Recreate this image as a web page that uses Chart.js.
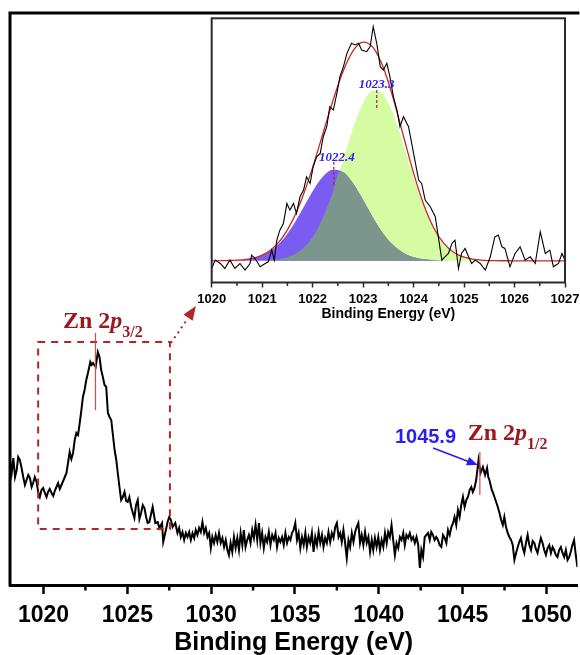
<!DOCTYPE html>
<html>
<head>
<meta charset="utf-8">
<script src="https://cdn.jsdelivr.net/npm/chart.js@4.4.0/dist/chart.umd.min.js"></script>
<style>
  html, body { margin: 0; padding: 0; background: #fff; }
  body { width: 580px; height: 655px; overflow: hidden; position: relative; }
  #main { position: absolute; left: 0; top: 0; }
  #inset { position: absolute; left: 170px; top: 0; }
</style>
</head>
<body>
<canvas id="main" width="580" height="655"></canvas>
<canvas id="inset" width="430" height="330"></canvas>
<script>
// Zn 2p survey (arbitrary intensity)
var energy = [
  1018.00, 1018.10, 1018.20, 1018.30, 1018.40, 1018.49, 1018.59, 1018.69, 1018.79, 1018.89,
  1018.99, 1019.09, 1019.19, 1019.29, 1019.38, 1019.48, 1019.59, 1019.68, 1019.78, 1019.88,
  1019.98, 1020.08, 1020.18, 1020.27, 1020.37, 1020.48, 1020.58, 1020.67, 1020.77, 1020.87,
  1020.97, 1021.07, 1021.17, 1021.27, 1021.37, 1021.46, 1021.56, 1021.66, 1021.76, 1021.86,
  1021.96, 1022.06, 1022.16, 1022.26, 1022.35, 1022.45, 1022.55, 1022.65, 1022.79, 1022.87,
  1022.95, 1023.11, 1023.24, 1023.34, 1023.44, 1023.54, 1023.64, 1023.74, 1023.84, 1023.94,
  1024.04, 1024.14, 1024.24, 1024.34, 1024.43, 1024.53, 1024.63, 1024.73, 1024.83, 1024.93,
  1025.02, 1025.12, 1025.23, 1025.33, 1025.42, 1025.52, 1025.62, 1025.72, 1025.82, 1025.92,
  1026.02, 1026.12, 1026.21,
  1026.31, 1026.51, 1026.67, 1026.81, 1026.91, 1027.07, 1027.14, 1027.30, 1027.40, 1027.50,
  1027.60, 1027.70, 1027.86, 1027.99, 1028.09, 1028.19, 1028.29, 1028.39, 1028.49, 1028.59,
  1028.69, 1028.79, 1028.89, 1028.99, 1029.08, 1029.18, 1029.28, 1029.38, 1029.48, 1029.58,
  1029.68, 1029.78, 1029.88, 1029.98, 1030.07, 1030.17, 1030.27, 1030.37, 1030.47, 1030.57,
  1030.67, 1030.77, 1030.87, 1030.97, 1031.06, 1031.16, 1031.26, 1031.36, 1031.46, 1031.56,
  1031.66, 1031.76, 1031.86, 1031.95, 1032.05, 1032.15, 1032.25, 1032.35, 1032.45, 1032.55,
  1032.65, 1032.75, 1032.85, 1032.94, 1033.04, 1033.14, 1033.24, 1033.34, 1033.44, 1033.54,
  1033.64, 1033.74, 1033.84, 1033.93, 1034.03, 1034.13, 1034.23, 1034.33, 1034.43, 1034.53,
  1034.63, 1034.73, 1034.82, 1034.92, 1035.02, 1035.12, 1035.22, 1035.32, 1035.42, 1035.52,
  1035.62, 1035.71, 1035.81, 1035.91, 1036.01, 1036.11, 1036.21, 1036.31, 1036.41, 1036.51,
  1036.61, 1036.70, 1036.80, 1036.90, 1037.00, 1037.10, 1037.20, 1037.30, 1037.40, 1037.50,
  1037.60, 1037.70, 1037.79, 1037.89, 1037.99, 1038.09, 1038.19, 1038.29, 1038.39, 1038.49,
  1038.59, 1038.68, 1038.78, 1038.88, 1038.98, 1039.08, 1039.18, 1039.28, 1039.38, 1039.48,
  1039.58, 1039.67, 1039.77, 1039.87, 1039.97, 1040.07, 1040.17, 1040.27, 1040.37, 1040.47,
  1040.56, 1040.66, 1040.76, 1040.86, 1040.96, 1041.06, 1041.16, 1041.26, 1041.36, 1041.46,
  1041.55, 1041.65, 1041.75, 1041.85, 1041.95, 1042.05, 1042.15, 1042.25, 1042.35, 1042.45,
  1042.54, 1042.64, 1042.74, 1042.84, 1042.94, 1043.04, 1043.13, 1043.23, 1043.33, 1043.43,
  1043.53,
  1043.63, 1043.73, 1043.83, 1043.93, 1044.03, 1044.13, 1044.23, 1044.33, 1044.43, 1044.52,
  1044.62, 1044.72, 1044.82, 1044.92, 1045.02, 1045.12, 1045.22, 1045.32, 1045.42, 1045.52,
  1045.61, 1045.71, 1045.81, 1045.95, 1046.07, 1046.21, 1046.34, 1046.46, 1046.53, 1046.60,
  1046.67, 1046.74, 1046.82, 1046.90, 1047.00, 1047.10, 1047.20, 1047.30, 1047.40, 1047.49,
  1047.59, 1047.69, 1047.79, 1047.89, 1047.99, 1048.09, 1048.19, 1048.29, 1048.38, 1048.48,
  1048.58, 1048.68, 1048.78, 1048.88, 1048.98, 1049.08, 1049.18, 1049.28, 1049.37, 1049.47,
  1049.57, 1049.67, 1049.77, 1049.87, 1049.97, 1050.07, 1050.17, 1050.27, 1050.37, 1050.46,
  1050.56, 1050.66, 1050.76, 1050.86, 1050.96, 1051.06, 1051.16, 1051.26, 1051.36, 1051.45,
  1051.55, 1051.65, 1051.75, 1051.85];
var counts = [
  125, 112, 127, 108, 115, 128, 125, 117, 108, 100,
  105, 110, 107, 98, 102, 108, 103, 93, 88, 95,
  97, 92, 88, 93, 96, 92, 89, 94, 98, 102,
  96, 100, 104, 108, 112, 122, 133, 126, 132, 145,
  152, 150, 162, 175, 188, 195, 205, 212, 223, 220,
  222, 218, 233, 228, 215, 208, 200, 198, 172, 168,
  165, 150, 135, 125, 112, 98, 85, 88, 93, 84,
  83, 88, 78, 72, 67, 80, 85, 66, 72, 80,
  77, 68, 62,
  63, 78, 62, 63, 57, 62, 43, 55, 63, 68,
  65, 58, 62, 52, 57, 48, 53, 45, 52, 48,
  53, 45, 52, 47, 55, 50, 57, 53, 63, 52,
  57, 48, 52, 37, 48, 42, 50, 43, 52, 42,
  47, 38, 45, 35, 30, 42, 33, 48, 37, 47,
  35, 52, 40, 55, 38, 45, 50, 42, 55, 47,
  60, 45, 62, 42, 52, 37, 48, 43, 53, 40,
  50, 45, 52, 38, 47, 43, 48, 40, 52, 42,
  48, 45, 52, 55, 62, 45, 52, 37, 48, 40,
  52, 38, 48, 42, 52, 33, 48, 40, 53, 42,
  50, 38, 47, 42, 53, 43, 52, 47, 58, 62,
  48, 52, 43, 55, 42, 27, 45, 38, 52, 43,
  53, 58, 62, 42, 50, 40, 53, 42, 48, 33,
  45, 35, 47, 38, 48, 35, 45, 38, 52, 42,
  53, 48, 60, 45, 30, 42, 37, 48, 45, 52,
  40, 50, 47, 52, 45, 48, 42, 48, 40, 17,
  35, 28, 48, 50, 52, 45, 53, 50, 45, 48,
  45,
  40, 38, 50, 47, 42, 55, 50, 58, 62, 68,
  60, 75, 68, 80, 88, 78, 85, 88, 95, 98,
  93, 97, 105, 125, 112, 118, 110, 117, 108, 105,
  100, 95, 92, 88, 83, 78, 72, 65, 60, 68,
  58, 52, 48, 45, 40, 25, 32, 38, 43, 47,
  38, 32, 42, 50, 40, 35, 44, 42, 36, 32,
  40, 47, 42, 35, 30, 37, 40, 32, 38, 35,
  30, 28, 35, 38, 32, 28, 35, 25, 28, 33,
  40, 45, 30, 18];
var mainTicks = [1020, 1025, 1030, 1035, 1040, 1045, 1050];
var mainMinor = [1022.5, 1027.5, 1032.5, 1037.5, 1042.5, 1047.5];

// inset: high resolution Zn 2p3/2 and its fit
var insetEnergy = [1020.00, 1020.07, 1020.17, 1020.26, 1020.36, 1020.46, 1020.56, 1020.66, 1020.76, 1020.79,
  1020.86, 1020.96, 1021.06, 1021.12, 1021.19, 1021.24, 1021.29, 1021.35, 1021.42, 1021.49,
  1021.55, 1021.62, 1021.68, 1021.75, 1021.82, 1021.88, 1021.95, 1022.01, 1022.08, 1022.15,
  1022.21, 1022.28, 1022.34, 1022.41, 1022.48, 1022.54, 1022.61, 1022.68, 1022.77, 1022.84,
  1022.91, 1022.97, 1023.07, 1023.14, 1023.20, 1023.27, 1023.34, 1023.40, 1023.47, 1023.53,
  1023.60, 1023.67, 1023.73, 1023.80, 1023.90, 1024.00, 1024.10, 1024.16, 1024.23, 1024.33,
  1024.43, 1024.49, 1024.56, 1024.62, 1024.69, 1024.76, 1024.82, 1024.89, 1024.95, 1025.02,
  1025.09, 1025.15, 1025.22, 1025.32, 1025.42, 1025.52, 1025.61, 1025.68, 1025.75, 1025.81,
  1025.91, 1026.01, 1026.11, 1026.21, 1026.31, 1026.41, 1026.51, 1026.61, 1026.70, 1026.77,
  1026.87, 1026.94, 1027.00];
var insetRaw = [-23, 2, -8, -23, 2, -23, -8, -28, -8, 17,
  7, -18, -8, -3, 32, 2, 62, 92, 112, 172,
  152, 172, 142, 192, 212, 252, 232, 282, 312, 322,
  372, 402, 462, 452, 502, 552, 582, 622, 652, 647,
  652, 632, 627, 642, 702, 652, 582, 572, 592, 552,
  492, 452, 402, 432, 402, 322, 242, 232, 182, 162,
  132, 72, 2, 12, 22, 52, 62, -23, 22, 37,
  12, -8, 2, -8, -28, 12, 72, 77, 42, 37,
  -18, 22, 42, 2, 12, -8, 87, 22, 32, -18,
  -8, 22, 2];
var fitEnergy = [1020.0, 1020.2, 1020.4, 1020.6, 1020.8, 1021.0, 1021.2, 1021.4, 1021.6, 1021.8,
  1022.0, 1022.2, 1022.4, 1022.6, 1022.8, 1023.0, 1023.2, 1023.4, 1023.6, 1023.8,
  1024.0, 1024.2, 1024.4, 1024.6, 1024.8, 1025.0, 1025.2, 1025.4, 1025.6, 1025.8,
  1026.0, 1026.2, 1026.4, 1026.6, 1026.8, 1027.0];
var fitEnvelope = [0, 0.3, 1.0, 2.9, 7.4, 17.1, 36.2, 69.2, 120.4, 191.5,
  280.2, 379.6, 479.2, 566.5, 629.1, 655.7, 639.1, 579.2, 485.1, 373.4,
  263.0, 168.7, 98.5, 52.1, 25.0, 10.8, 4.3, 1.5, 0.5, 0.2,
  0, 0, 0, 0, 0, 0];
var fitPeak1 = [0, 0.3, 1.0, 2.8, 7.1, 16.2, 33.6, 62.3, 103.8, 155.3,
  208.7, 251.9, 273.1, 265.8, 232.4, 182.5, 128.7, 81.5, 46.3, 23.7,
  10.9, 4.5, 1.7, 0.5, 0.2, 0, 0, 0, 0, 0,
  0, 0, 0, 0, 0, 0];
var fitPeak2 = [0, 0, 0, 0.1, 0.3, 0.9, 2.6, 6.9, 16.6, 36.2,
  71.5, 127.7, 206.1, 300.7, 396.7, 473.2, 510.4, 497.7, 438.8, 349.7,
  252.1, 164.2, 96.8, 51.6, 24.8, 10.8, 4.3, 1.5, 0.5, 0.2,
  0, 0, 0, 0, 0, 0];
// area shared by both components
var overlapEnergy = [1020.0, 1020.2, 1020.4, 1020.6, 1020.8, 1021.0, 1021.2, 1021.4, 1021.6, 1021.8,
  1022.0, 1022.2, 1022.4, 1022.53, 1022.6, 1022.8, 1023.0, 1023.2, 1023.4, 1023.6,
  1023.8, 1024.0, 1024.2, 1024.4, 1024.6, 1024.8, 1025.0, 1025.2, 1025.4, 1025.6,
  1025.8, 1026.0, 1026.2, 1026.4, 1026.6, 1026.8, 1027.0];
var fitOverlap = [0, 0, 0, 0.1, 0.3, 0.9, 2.6, 6.9, 16.6, 36.2,
  71.5, 127.7, 206.1, 266, 265.8, 232.4, 182.5, 128.7, 81.5, 46.3,
  23.7, 10.9, 4.5, 1.7, 0.5, 0.2, 0, 0, 0, 0,
  0, 0, 0, 0, 0, 0, 0];
var insetTicks = [1020, 1021, 1022, 1023, 1024, 1025, 1026, 1027];
var insetMinor = [1020.5, 1021.5, 1022.5, 1023.5, 1024.5, 1025.5, 1026.5];

var SANS = 'Arial, "Liberation Sans", sans-serif';
var SERIF = '"Liberation Serif", "Times New Roman", serif';
var DARKRED = 'rgb(155,25,30)';

function pairs(xs, ys) {
  return xs.map(function (x, i) { return { x: x, y: ys[i] }; });
}

function drawRich(ctx, x, y, parts) {
  parts.forEach(function (p) {
    ctx.font = p.font;
    ctx.fillText(p.text, x, y + (p.dy || 0));
    x += ctx.measureText(p.text).width;
  });
}

function arrowHead(ctx, x0, y0, x1, y1, len, half) {
  var a = Math.atan2(y1 - y0, x1 - x0);
  var bx = x1 - len * Math.cos(a), by = y1 - len * Math.sin(a);
  ctx.beginPath();
  ctx.moveTo(x1, y1);
  ctx.lineTo(bx + half * Math.sin(a), by - half * Math.cos(a));
  ctx.lineTo(bx - half * Math.sin(a), by + half * Math.cos(a));
  ctx.closePath();
  ctx.fill();
}

var mainDecor = {
  id: 'mainDecor',
  afterDraw: function (chart) {
    var ctx = chart.ctx, a = chart.chartArea;
    var xs = chart.scales.x, ys = chart.scales.y;
    var px = function (v) { return xs.getPixelForValue(v); };
    var py = function (v) { return ys.getPixelForValue(v); };
    ctx.save();
    // frame (left + top), the right side runs off the picture
    ctx.strokeStyle = '#000';
    ctx.lineWidth = 3;
    ctx.beginPath();
    ctx.moveTo(a.left, a.bottom + 1.5);
    ctx.lineTo(a.left, a.top);
    ctx.lineTo(a.right + 2, a.top);
    ctx.stroke();
    // minor ticks
    ctx.lineWidth = 2.5;
    mainMinor.forEach(function (v) {
      ctx.beginPath();
      ctx.moveTo(px(v), a.bottom);
      ctx.lineTo(px(v), a.bottom + 5.5);
      ctx.stroke();
    });

    // dashed box round the Zn 2p3/2 peak
    ctx.strokeStyle = 'rgb(178,38,42)';
    ctx.lineWidth = 2;
    ctx.setLineDash([7, 6]);
    ctx.strokeRect(px(1019.68), py(243), px(1027.54) - px(1019.68), py(56) - py(243));
    // dotted arrow to the inset
    ctx.setLineDash([2, 4]);
    ctx.beginPath();
    ctx.moveTo(px(1027.6), py(242));
    ctx.lineTo(px(1028.5), py(264));
    ctx.stroke();
    ctx.setLineDash([]);
    ctx.fillStyle = 'rgb(178,38,42)';
    arrowHead(ctx, px(1027.6), py(242), px(1029.09), py(279), 14, 5.5);

    // peak markers
    ctx.strokeStyle = 'rgb(225,70,70)';
    ctx.lineWidth = 1.2;
    ctx.beginPath();
    ctx.moveTo(px(1023.1), py(252));
    ctx.lineTo(px(1023.1), py(175));
    ctx.moveTo(px(1046.03), py(133));
    ctx.lineTo(px(1046.03), py(90));
    ctx.stroke();

    // labels
    ctx.fillStyle = DARKRED;
    ctx.textBaseline = 'alphabetic';
    ctx.textAlign = 'left';
    drawRich(ctx, px(1021.16), py(257), [
      { text: 'Zn 2', font: 'bold 24px ' + SERIF },
      { text: 'p', font: 'italic bold 24px ' + SERIF },
      { text: '3/2', font: 'bold 16px ' + SERIF, dy: 9 }
    ]);
    drawRich(ctx, px(1045.3), py(145), [
      { text: 'Zn 2', font: 'bold 24px ' + SERIF },
      { text: 'p', font: 'italic bold 24px ' + SERIF },
      { text: '1/2', font: 'bold 16px ' + SERIF, dy: 9 }
    ]);
    ctx.fillStyle = 'rgb(40,30,245)';
    ctx.font = 'bold 20px ' + SANS;
    ctx.fillText('1045.9', px(1040.96), py(142));
    // blue arrow
    ctx.strokeStyle = 'rgb(40,30,245)';
    ctx.lineWidth = 1.6;
    ctx.beginPath();
    ctx.moveTo(px(1043.24), py(137));
    ctx.lineTo(px(1045.5), py(122.5));
    ctx.stroke();
    arrowHead(ctx, px(1043.24), py(137), px(1045.91), py(120), 11, 4.5);
    ctx.restore();
  }
};

var insetDecor = {
  id: 'insetDecor',
  beforeDraw: function (chart) {
    var ctx = chart.ctx, a = chart.chartArea;
    ctx.save();
    ctx.fillStyle = '#fff';
    ctx.fillRect(a.left, a.top, a.right - a.left, a.bottom - a.top);
    ctx.restore();
  },
  afterDraw: function (chart) {
    var ctx = chart.ctx, a = chart.chartArea;
    var xs = chart.scales.x, ys = chart.scales.y;
    var px = function (v) { return xs.getPixelForValue(v); };
    var py = function (v) { return ys.getPixelForValue(v); };
    ctx.save();
    ctx.strokeStyle = '#2a2a2a';
    ctx.lineWidth = 2;
    ctx.strokeRect(a.left, a.top, a.right - a.left, a.bottom - a.top);
    ctx.lineWidth = 1.5;
    insetMinor.forEach(function (v) {
      ctx.beginPath();
      ctx.moveTo(px(v), a.bottom);
      ctx.lineTo(px(v), a.bottom + 3.5);
      ctx.stroke();
    });
    // component centres
    ctx.strokeStyle = 'rgb(170,40,40)';
    ctx.lineWidth = 1.2;
    ctx.setLineDash([3, 2]);
    ctx.beginPath();
    ctx.moveTo(px(1022.42), py(297));
    ctx.lineTo(px(1022.42), py(227));
    ctx.moveTo(px(1023.27), py(512));
    ctx.lineTo(px(1023.27), py(452));
    ctx.stroke();
    ctx.setLineDash([]);
    ctx.fillStyle = 'rgb(50,30,240)';
    ctx.font = 'italic bold 13px ' + SERIF;
    ctx.textAlign = 'center';
    ctx.textBaseline = 'alphabetic';
    ctx.fillText('1022.4', px(1022.48), py(300));
    ctx.fillText('1023.3', px(1023.27), py(517));
    ctx.restore();
  }
};

new Chart(document.getElementById('main'), {
  type: 'line',
  data: {
    datasets: [{
      data: pairs(energy, counts),
      borderColor: '#000',
      borderWidth: 2,
      pointRadius: 0,
      tension: 0,
      fill: false
    }]
  },
  options: {
    responsive: false,
    animation: false,
    layout: { padding: { left: 10, top: 13, right: 0, bottom: 0 } },
    plugins: { legend: { display: false }, tooltip: { enabled: false } },
    scales: {
      x: {
        type: 'linear',
        min: 1018,
        max: 1051.85,
        afterFit: function (scale) { scale.height = 70; },
        afterBuildTicks: function (scale) {
          scale.ticks = mainTicks.map(function (v) { return { value: v }; });
        },
        ticks: {
          callback: function (v) { return String(v); },
          color: '#000',
          font: { family: SANS, size: 23, weight: 'bold' },
          padding: 8,
          maxRotation: 0
        },
        grid: { drawOnChartArea: false, drawTicks: true, tickLength: 9, tickWidth: 2.5, tickColor: '#000' },
        border: { display: true, color: '#000', width: 3 },
        title: {
          display: true,
          text: 'Binding Energy (eV)',
          color: '#000',
          font: { family: SANS, size: 25, weight: 'bold' },
          padding: { top: 0, bottom: -3 }
        }
      },
      y: { type: 'linear', display: false, min: 0, max: 572 }
    }
  },
  plugins: [mainDecor]
});

new Chart(document.getElementById('inset'), {
  type: 'line',
  data: {
    datasets: [
      { data: pairs(insetEnergy, insetRaw), borderColor: '#000', borderWidth: 1.1, pointRadius: 0, tension: 0, fill: false, order: 0 },
      { data: pairs(fitEnergy, fitEnvelope), borderColor: 'rgb(200,40,40)', borderWidth: 1.3, pointRadius: 0, cubicInterpolationMode: 'monotone', fill: false, order: 1 },
      { data: pairs(overlapEnergy, fitOverlap), borderWidth: 0, borderColor: 'rgba(0,0,0,0)', backgroundColor: 'rgb(123,151,141)', pointRadius: 0, cubicInterpolationMode: 'monotone', fill: 'origin', order: 2 },
      { data: pairs(fitEnergy, fitPeak1), borderWidth: 0, borderColor: 'rgba(0,0,0,0)', backgroundColor: 'rgb(123,92,242)', pointRadius: 0, cubicInterpolationMode: 'monotone', fill: 'origin', order: 3 },
      { data: pairs(fitEnergy, fitPeak2), borderWidth: 0, borderColor: 'rgba(0,0,0,0)', backgroundColor: 'rgb(213,252,163)', pointRadius: 0, cubicInterpolationMode: 'monotone', fill: 'origin', order: 4 }
    ]
  },
  options: {
    responsive: false,
    animation: false,
    layout: { padding: { left: 41.7, top: 18.3, right: 35, bottom: 0 } },
    plugins: { legend: { display: false }, tooltip: { enabled: false } },
    scales: {
      x: {
        type: 'linear',
        min: 1020,
        max: 1027,
        afterFit: function (scale) { scale.height = 47.5; },
        afterBuildTicks: function (scale) {
          scale.ticks = insetTicks.map(function (v) { return { value: v }; });
        },
        ticks: {
          callback: function (v) { return String(v); },
          color: '#000',
          font: { family: SANS, size: 13, weight: 'bold' },
          padding: 4,
          maxRotation: 0
        },
        grid: { drawOnChartArea: false, drawTicks: true, tickLength: 5, tickWidth: 1.5, tickColor: '#2a2a2a' },
        border: { display: false },
        title: {
          display: true,
          text: 'Binding Energy (eV)',
          color: '#000',
          font: { family: SANS, size: 14, weight: 'bold' },
          padding: { top: 0, bottom: 7.6 }
        }
      },
      y: { type: 'linear', display: false, min: -65, max: 727 }
    }
  },
  plugins: [insetDecor]
});
</script>
</body>
</html>
